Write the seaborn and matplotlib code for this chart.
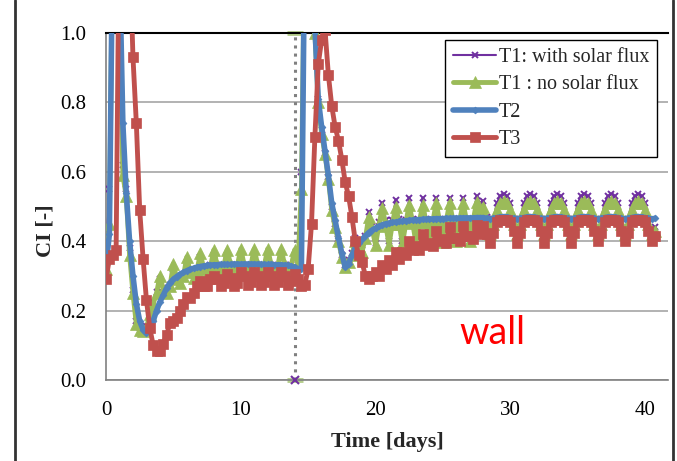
import numpy as np
import matplotlib
matplotlib.use("Agg")
import matplotlib.pyplot as plt
from matplotlib.lines import Line2D
import seaborn as sns

# one value every 6 hours, 0 .. 40.75 days
days = np.arange(0, 41, 0.25)

t1_solar_ci = [
    0.35, 0.55, 1.30, 1.50,
    1.15, 0.62, 0.55, 0.38,
    0.26, 0.17, 0.15, 0.145,
    0.155, 0.19, 0.225, 0.255,
    0.29, 0.265, 0.255, 0.275,
    0.32, 0.29, 0.285, 0.30,
    0.34, 0.31, 0.30, 0.32,
    0.355, 0.325, 0.31, 0.33,
    0.36, 0.33, 0.312, 0.332,
    0.36, 0.33, 0.312, 0.332,
    0.36, 0.33, 0.312, 0.332,
    0.36, 0.33, 0.312, 0.332,
    0.36, 0.33, 0.312, 0.332,
    0.36, 0.33, 0.312, 0.332,
    0.36, 0.335, 0.60, 1.30,
    1.50, 1.30, 1.02, 0.81,
    0.72, 0.655, 0.585, 0.50,
    0.45, 0.405, 0.36, 0.33,
    0.345, 0.365, 0.41, 0.395,
    0.375, 0.415, 0.485, 0.445,
    0.395, 0.455, 0.51, 0.46,
    0.40, 0.46, 0.52, 0.465,
    0.40, 0.46, 0.525, 0.465,
    0.40, 0.46, 0.525, 0.465,
    0.40, 0.46, 0.525, 0.465,
    0.40, 0.46, 0.525, 0.465,
    0.40, 0.46, 0.525, 0.465,
    0.40, 0.465, 0.53, 0.51,
    0.515, 0.47, 0.43, 0.465,
    0.51, 0.53, 0.535, 0.53,
    0.51, 0.465, 0.43, 0.465,
    0.51, 0.53, 0.535, 0.53,
    0.51, 0.465, 0.43, 0.465,
    0.51, 0.53, 0.535, 0.53,
    0.51, 0.465, 0.43, 0.465,
    0.51, 0.53, 0.535, 0.53,
    0.51, 0.465, 0.43, 0.465,
    0.51, 0.53, 0.535, 0.53,
    0.51, 0.465, 0.43, 0.465,
    0.51, 0.53, 0.535, 0.53,
    0.51, 0.465, 0.43, 0.44,
]

t1_nosolar_ci = [
    0.32, 0.45, 1.30, 1.50,
    1.10, 0.59, 0.53, 0.36,
    0.25, 0.16, 0.145, 0.14,
    0.15, 0.19, 0.22, 0.25,
    0.30, 0.26, 0.25, 0.27,
    0.335, 0.29, 0.28, 0.30,
    0.355, 0.31, 0.295, 0.315,
    0.365, 0.32, 0.305, 0.325,
    0.375, 0.33, 0.31, 0.33,
    0.375, 0.33, 0.31, 0.33,
    0.378, 0.332, 0.31, 0.33,
    0.378, 0.332, 0.31, 0.33,
    0.378, 0.332, 0.31, 0.33,
    0.378, 0.332, 0.31, 0.33,
    0.375, 0.335, 0.55, 1.30,
    1.50, 1.30, 1.00, 0.80,
    0.71, 0.65, 0.58, 0.49,
    0.44, 0.40, 0.355, 0.325,
    0.34, 0.36, 0.40, 0.385,
    0.37, 0.41, 0.47, 0.435,
    0.39, 0.445, 0.495, 0.45,
    0.39, 0.45, 0.50, 0.45,
    0.393, 0.452, 0.505, 0.455,
    0.395, 0.455, 0.505, 0.455,
    0.395, 0.455, 0.51, 0.458,
    0.398, 0.458, 0.51, 0.458,
    0.40, 0.46, 0.51, 0.46,
    0.40, 0.46, 0.512, 0.49,
    0.50, 0.46, 0.42, 0.45,
    0.49, 0.51, 0.515, 0.51,
    0.49, 0.45, 0.42, 0.45,
    0.49, 0.51, 0.515, 0.51,
    0.49, 0.45, 0.42, 0.45,
    0.49, 0.51, 0.515, 0.51,
    0.49, 0.45, 0.42, 0.45,
    0.49, 0.51, 0.515, 0.51,
    0.49, 0.45, 0.42, 0.45,
    0.49, 0.51, 0.515, 0.51,
    0.49, 0.45, 0.42, 0.45,
    0.49, 0.51, 0.515, 0.51,
    0.49, 0.45, 0.42, 0.43,
]

t2_ci = [
    0.33, 0.42, 1.30, 1.50,
    1.20, 0.74, 0.54, 0.40,
    0.30, 0.22, 0.17, 0.145,
    0.135, 0.14, 0.17, 0.20,
    0.225, 0.245, 0.265, 0.28,
    0.29, 0.298, 0.305, 0.31,
    0.315, 0.319, 0.322, 0.325,
    0.327, 0.329, 0.33, 0.331,
    0.332, 0.332, 0.333, 0.333,
    0.333, 0.333, 0.334, 0.334,
    0.334, 0.334, 0.334, 0.334,
    0.334, 0.334, 0.333, 0.333,
    0.333, 0.333, 0.332, 0.332,
    0.332, 0.331, 0.33, 0.328,
    0.325, 0.32, 0.32, 1.30,
    1.50, 1.30, 1.02, 0.81,
    0.73, 0.66, 0.59, 0.51,
    0.46, 0.41, 0.365, 0.325,
    0.335, 0.36, 0.38, 0.395,
    0.405, 0.415, 0.425, 0.432,
    0.438, 0.443, 0.447, 0.45,
    0.452, 0.454, 0.455, 0.457,
    0.458, 0.459, 0.46, 0.461,
    0.462, 0.462, 0.463, 0.463,
    0.464, 0.464, 0.465, 0.465,
    0.465, 0.466, 0.466, 0.466,
    0.466, 0.467, 0.467, 0.467,
    0.467, 0.467, 0.468, 0.468,
    0.468, 0.466, 0.464, 0.466,
    0.468, 0.47, 0.471, 0.47,
    0.468, 0.466, 0.464, 0.466,
    0.468, 0.47, 0.471, 0.47,
    0.468, 0.466, 0.464, 0.466,
    0.468, 0.47, 0.471, 0.47,
    0.468, 0.466, 0.464, 0.466,
    0.468, 0.47, 0.471, 0.47,
    0.468, 0.466, 0.464, 0.466,
    0.468, 0.47, 0.471, 0.47,
    0.468, 0.466, 0.464, 0.466,
    0.468, 0.47, 0.471, 0.47,
    0.468, 0.466, 0.464, 0.466,
]

t3_ci = [
    0.29, 0.35, 0.36, 0.375,
    1.40, 1.60, 1.60, 1.25,
    0.93, 0.74, 0.49, 0.35,
    0.23, 0.15, 0.10, 0.085,
    0.085, 0.105, 0.13, 0.165,
    0.17, 0.18, 0.20, 0.22,
    0.24, 0.235, 0.25, 0.27,
    0.285, 0.27, 0.27, 0.29,
    0.30, 0.29, 0.27, 0.28,
    0.305, 0.295, 0.272, 0.28,
    0.31, 0.30, 0.275, 0.282,
    0.31, 0.30, 0.275, 0.282,
    0.31, 0.30, 0.275, 0.282,
    0.31, 0.30, 0.275, 0.285,
    0.305, 0.29, 0.27, 0.275,
    0.32, 0.45, 0.70, 0.91,
    0.98, 1.01, 0.88, 0.79,
    0.73, 0.69, 0.635, 0.57,
    0.53, 0.47, 0.40, 0.36,
    0.34, 0.30, 0.29, 0.30,
    0.31, 0.30, 0.33, 0.32,
    0.345, 0.33, 0.37, 0.35,
    0.37, 0.36, 0.40, 0.375,
    0.385, 0.375, 0.42, 0.39,
    0.395, 0.385, 0.43, 0.40,
    0.405, 0.395, 0.44, 0.41,
    0.41, 0.40, 0.445, 0.415,
    0.415, 0.405, 0.447, 0.42,
    0.445, 0.42, 0.395, 0.425,
    0.455, 0.46, 0.46, 0.46,
    0.455, 0.43, 0.395, 0.425,
    0.455, 0.46, 0.46, 0.46,
    0.455, 0.43, 0.395, 0.425,
    0.455, 0.46, 0.46, 0.46,
    0.455, 0.43, 0.395, 0.425,
    0.455, 0.46, 0.46, 0.46,
    0.455, 0.43, 0.40, 0.425,
    0.455, 0.46, 0.46, 0.46,
    0.455, 0.43, 0.40, 0.425,
    0.455, 0.46, 0.46, 0.46,
    0.455, 0.43, 0.40, 0.415,
]

# dotted marker line at the change of conditions
event_day = [14.0, 14.0]
event_ci = [0.0, 1.0]

labels = ["T1: with solar flux", "T1 : no solar flux", "T2", "T3"]
colors = ["#7030A0", "#9BBB59", "#4F81BD", "#C0504D"]
x_ticks = [0, 10, 20, 30, 40]
y_ticks = [0.0, 0.2, 0.4, 0.6, 0.8, 1.0]

for s in [t1_solar_ci, t1_nosolar_ci, t2_ci, t3_ci]:
    assert len(s) == len(days)

sns.set_style("white")
plt.rcParams["font.family"] = ["Liberation Serif", "DejaVu Serif"]

fig = plt.figure(figsize=(6.77, 4.61), dpi=100)
ax = fig.add_axes([0.1566, 0.1757, 0.830, 0.7527])

# vertical event line
ax.plot(event_day, event_ci, linestyle=":", color="#808080", lw=2.2, zorder=1)
ax.plot(event_day, event_ci, linestyle="none", marker="_", ms=11, mew=3.5,
        color="#B5CE8C", clip_on=False, zorder=2)
ax.plot(event_day[:1], event_ci[:1], linestyle="none", marker="x", ms=6, mew=1.5,
        color=colors[0], clip_on=False, zorder=3)

sns.lineplot(x=days, y=t1_solar_ci, ax=ax, color=colors[0], lw=1.5, marker="x",
             markersize=5, markeredgewidth=1.4, markeredgecolor=colors[0],
             label=labels[0], zorder=4)
sns.lineplot(x=days, y=t1_nosolar_ci, ax=ax, color=colors[1], lw=3.5, marker="^",
             markersize=8.5, markeredgewidth=0.5, markeredgecolor=colors[1],
             label=labels[1], zorder=5)
sns.lineplot(x=days, y=t2_ci, ax=ax, color=colors[2], lw=4, marker="D",
             markersize=3.5, markeredgewidth=0.5, markeredgecolor=colors[2],
             label=labels[2], zorder=6)
sns.lineplot(x=days, y=t3_ci, ax=ax, color=colors[3], lw=3.5, marker="s",
             markersize=6.5, markeredgewidth=0.5, markeredgecolor=colors[3],
             label=labels[3], zorder=7)

ax.set_xlim(0, 41.7)
ax.set_ylim(0, 1.0)
ax.set_xticks(x_ticks)
ax.set_yticks(y_ticks)
ax.set_yticklabels(["%.1f" % v for v in y_ticks])
ax.tick_params(axis="both", direction="out", length=5, width=1, color="#808080",
               labelsize=15, labelcolor="black")
ax.tick_params(axis="x", pad=10)
ax.tick_params(axis="y", pad=9)
ax.yaxis.grid(True, color="#A6A6A6", lw=1.2)
ax.set_axisbelow(True)

for side in ["left", "bottom"]:
    ax.spines[side].set_color("#808080")
    ax.spines[side].set_linewidth(1.2)
ax.spines["right"].set_visible(False)
ax.spines["top"].set_color("black")
ax.spines["top"].set_linewidth(1.5)

ax.set_xlabel("Time [days]", fontsize=16, fontweight="bold", labelpad=9)
ax.set_ylabel("CI [-]", fontsize=16, fontweight="bold")
ax.yaxis.set_label_coords(-0.09, 0.43)

ax.text(28.7, 0.135, "wall", color="#FF0000", fontsize=27, family="Lato",
        ha="center", va="center")

leg = ax.legend(loc="upper right", bbox_to_anchor=(0.981, 0.981), borderaxespad=0,
                fontsize=14.5, handlelength=2.1, handletextpad=0.15, labelspacing=0.42,
                borderpad=0.4, fancybox=False, framealpha=1, edgecolor="black")
leg.get_frame().set_linewidth(1)

# outer frame of the pasted chart
fig.add_artist(Line2D([0.022, 0.022], [0, 1], transform=fig.transFigure, color="#333333", lw=2))
fig.add_artist(Line2D([0.994, 0.994], [0, 1], transform=fig.transFigure, color="#333333", lw=2))

fig.savefig("out.png", dpi=100)
